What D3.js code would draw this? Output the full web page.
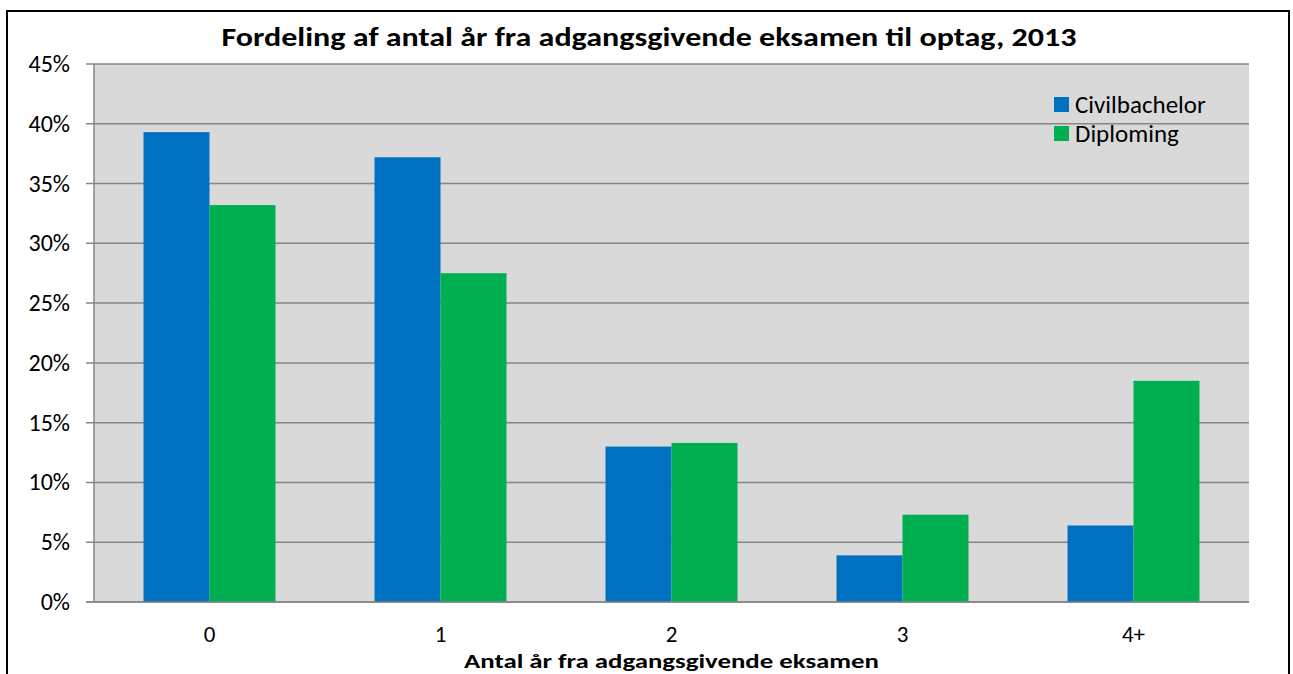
<!DOCTYPE html>
<html>
<head>
<meta charset="utf-8">
<script src="https://cdn.jsdelivr.net/npm/d3@7"></script>
<style>
  body { margin: 0; background: #fff; }
  text { font-family: Carlito, Calibri, Lato, sans-serif; fill: #000; }
</style>
</head>
<body>
<div id="root"></div>
<script>
var categories = ['0', '1', '2', '3', '4+'];
var seriesNames = ['Civilbachelor', 'Diploming'];
var civilbachelor = [39.3, 37.2, 13.0, 3.9, 6.4];
var diploming = [33.2, 27.5, 13.3, 7.3, 18.5];
var yTicks = [0, 5, 10, 15, 20, 25, 30, 35, 40, 45];
var colors = ['#0070c0', '#00b050'];

(function () {
    var w = 1293, h = 674;
    var pLeft = 94, pRight = 1249, pTop = 64, pBottom = 602;

    var svg = d3.select('#root').append('svg').attr('width', w).attr('height', h);

    // outer frame
    svg.append('rect')
        .attr('x', 7).attr('y', 11).attr('width', 1282).attr('height', 700)
        .attr('fill', '#fff').attr('stroke', '#000').attr('stroke-width', 2);

    var x = d3.scaleBand().domain(categories).range([pLeft, pRight])
        .paddingInner(0.4286).paddingOuter(0.2143);
    var xs = d3.scaleBand().domain(seriesNames).range([0, x.bandwidth()]);
    var y = d3.scaleLinear().domain([0, 45]).range([pBottom, pTop]);

    // plot background
    svg.append('rect')
        .attr('x', pLeft).attr('y', pTop)
        .attr('width', pRight - pLeft).attr('height', pBottom - pTop)
        .attr('fill', '#d9d9d9');

    // gridlines
    svg.append('g')
        .selectAll('line')
        .data(yTicks)
        .enter()
        .append('line')
        .attr('x1', pLeft - 8).attr('x2', pRight)
        .attr('y1', function (d) { return y(d); })
        .attr('y2', function (d) { return y(d); })
        .attr('stroke', '#868686')
        .attr('stroke-width', 1.5);

    // y labels
    svg.append('g')
        .selectAll('text')
        .data(yTicks)
        .enter()
        .append('text')
        .attr('x', 70)
        .attr('y', function (d) { return y(d) + 8; })
        .attr('text-anchor', 'end')
        .style('font-size', '24px')
        .text(function (d) { return d + '%'; });

    // bars
    var rows = categories.map(function (c, i) {
        return { cat: c, values: [civilbachelor[i], diploming[i]] };
    });
    var groups = svg.append('g')
        .selectAll('g')
        .data(rows)
        .enter()
        .append('g')
        .attr('transform', function (d) { return 'translate(' + x(d.cat) + ',0)'; });
    groups.selectAll('rect')
        .data(function (d) {
            return d.values.map(function (v, k) { return { name: seriesNames[k], value: v, k: k }; });
        })
        .enter()
        .append('rect')
        .attr('x', function (d) { return xs(d.name); })
        .attr('width', xs.bandwidth())
        .attr('y', function (d) { return y(d.value); })
        .attr('height', function (d) { return pBottom - y(d.value); })
        .attr('fill', function (d) { return colors[d.k]; });

    // axis lines
    svg.append('line')
        .attr('x1', pLeft).attr('x2', pLeft).attr('y1', pTop).attr('y2', pBottom)
        .attr('stroke', '#868686').attr('stroke-width', 1.5);
    svg.append('line')
        .attr('x1', pLeft - 8).attr('x2', pRight).attr('y1', pBottom).attr('y2', pBottom)
        .attr('stroke', '#868686').attr('stroke-width', 1.5);

    // x labels
    svg.append('g')
        .selectAll('text')
        .data(categories)
        .enter()
        .append('text')
        .attr('x', function (d) { return x(d) + x.bandwidth() / 2; })
        .attr('y', 642)
        .attr('text-anchor', 'middle')
        .style('font-size', '23px')
        .text(function (d) { return d; });

    // titles
    svg.append('text')
        .attr('x', 649)
        .attr('y', 46)
        .attr('text-anchor', 'middle')
        .attr('textLength', 855)
        .attr('lengthAdjust', 'spacingAndGlyphs')
        .style('font-size', '26px')
        .style('font-weight', 'bold')
        .text('Fordeling af antal år fra adgangsgivende eksamen til optag, 2013');

    svg.append('text')
        .attr('x', (pLeft + pRight) / 2)
        .attr('y', 668)
        .attr('text-anchor', 'middle')
        .attr('textLength', 415)
        .attr('lengthAdjust', 'spacingAndGlyphs')
        .style('font-size', '21px')
        .style('font-weight', 'bold')
        .text('Antal år fra adgangsgivende eksamen');

    // legend
    var legend = svg.append('g')
        .selectAll('g')
        .data(seriesNames)
        .enter()
        .append('g')
        .attr('transform', function (d, i) { return 'translate(1054,' + (97 + i * 29) + ')'; });
    legend.append('rect')
        .attr('width', 15).attr('height', 15)
        .attr('fill', function (d, i) { return colors[i]; });
    legend.append('text')
        .attr('x', 21)
        .attr('y', 16)
        .style('font-size', '25px')
        .text(function (d) { return d; });
})();
</script>
</body>
</html>
